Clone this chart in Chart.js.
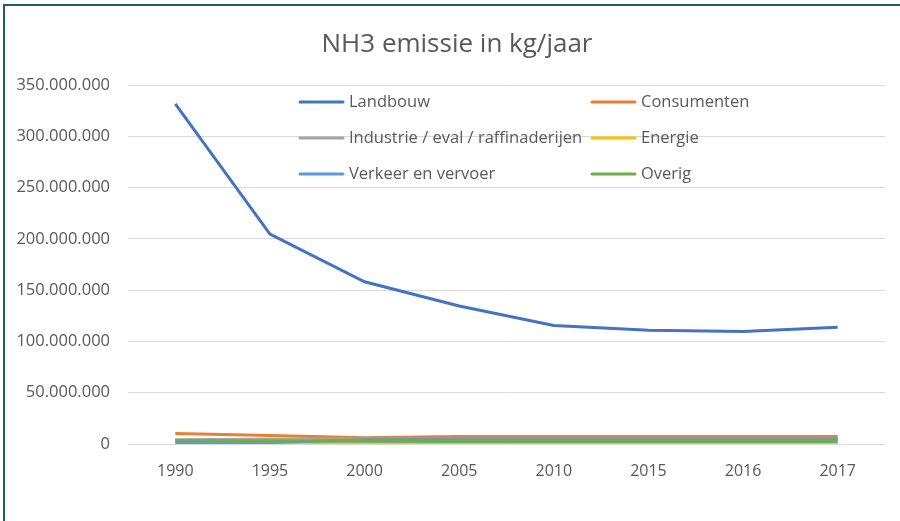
<!DOCTYPE html>
<html>
<head>
<meta charset="utf-8">
<script src="https://cdn.jsdelivr.net/npm/chart.js@4/dist/chart.umd.min.js"></script>
<style>
    html, body { margin: 0; padding: 0; background: #ffffff; }
    #kader { position: absolute; left: 0; top: 0; width: 900px; height: 521px; }
    #kader::before { content: ""; position: absolute; left: 3px; top: 4px; right: 0; height: 2px; background: #1b5f7c; }
    #kader::after { content: ""; position: absolute; left: 3px; top: 4px; bottom: 0; width: 2px; background: #1b5f7c; }
</style>
</head>
<body>
<div id="kader">
    <canvas id="grafiekNH3" width="900" height="521"></canvas>
</div>
<script>
// NH3 emissie per sector (kg/jaar)
const titel = "NH3 emissie in kg/jaar";
const jaren = ["1990", "1995", "2000", "2005", "2010", "2015", "2016", "2017"];

const landbouw    = [331500000, 204600000, 158200000, 134500000, 115500000, 110800000, 109600000, 113800000];
const consumenten = [10200000, 8200000, 6000000, 7300000, 7300000, 7300000, 7300000, 7300000];
const industrie   = [4200000, 4600000, 4800000, 4800000, 4800000, 4800000, 4800000, 4800000];
const energie     = [500000, 400000, 300000, 300000, 300000, 300000, 300000, 300000];
const verkeer     = [800000, 1500000, 4200000, 4600000, 4600000, 4600000, 4600000, 4600000];
const overig      = [3400000, 3000000, 2600000, 2500000, 2500000, 2500000, 2500000, 2500000];

const yTicks = [0, 50000000, 100000000, 150000000, 200000000, 250000000, 300000000, 350000000];

const reeksen = [
    { naam: "Landbouw", data: landbouw, kleur: "#4472C4" },
    { naam: "Consumenten", data: consumenten, kleur: "#ED7D31" },
    { naam: "Industrie / eval / raffinaderijen", data: industrie, kleur: "#A5A5A5" },
    { naam: "Energie", data: energie, kleur: "#FFC000" },
    { naam: "Verkeer en vervoer", data: verkeer, kleur: "#5B9BD5" },
    { naam: "Overig", data: overig, kleur: "#70AD47" }
];

function formatPunt(v) {
    return String(Math.round(v)).replace(/\B(?=(\d{3})+(?!\d))/g, ".");
}

// titel + legenda binnen het plotgebied, in twee kolommen zoals Excel
const legendaPlugin = {
    id: "legendaExcel",
    afterDraw(chart) {
        const ctx = chart.ctx;
        const kolomX = [300, 592];
        const rijY = [102, 138, 174];

        ctx.save();
        ctx.fillStyle = "#595959";
        ctx.textBaseline = "middle";

        ctx.font = "26px 'Open Sans'";
        ctx.textAlign = "center";
        ctx.fillText(titel, 457, 45);

        ctx.font = "16.5px 'Open Sans'";
        ctx.textAlign = "left";
        ctx.lineWidth = 3;
        ctx.lineCap = "round";

        chart.data.datasets.forEach((ds, i) => {
            const x = kolomX[i % 2];
            const y = rijY[Math.floor(i / 2)];
            ctx.strokeStyle = ds.borderColor;
            ctx.beginPath();
            ctx.moveTo(x, y);
            ctx.lineTo(x + 43, y);
            ctx.stroke();
            ctx.fillText(ds.label, x + 49, y);
        });

        ctx.restore();
    }
};

new Chart(document.getElementById("grafiekNH3"), {
    type: "line",
    data: {
        labels: jaren,
        datasets: reeksen.map((r, i) => ({
            label: r.naam,
            data: r.data,
            borderColor: r.kleur,
            backgroundColor: r.kleur,
            borderWidth: 3,
            pointRadius: 0,
            tension: 0,
            order: reeksen.length - i
        }))
    },
    options: {
        responsive: false,
        animation: false,
        layout: { padding: { left: 0, right: 15, top: 85, bottom: 0 } },
        plugins: {
            legend: { display: false },
            tooltip: { enabled: false },
            title: { display: false }
        },
        scales: {
            x: {
                offset: true,
                grid: { display: false },
                border: { display: false },
                ticks: {
                    color: "#595959",
                    font: { family: "'Open Sans'", size: 16 },
                    padding: 10,
                    maxRotation: 0
                },
                afterFit(scale) { scale.height = 77; }
            },
            y: {
                min: 0,
                max: 350000000,
                afterBuildTicks(scale) {
                    scale.ticks = yTicks.map(v => ({ value: v }));
                },
                grid: { color: "#d9d9d9", lineWidth: 1, drawTicks: false },
                border: { display: false },
                ticks: {
                    color: "#595959",
                    font: { family: "'Open Sans'", size: 16.5 },
                    padding: 18,
                    callback: v => formatPunt(v)
                },
                afterFit(scale) { scale.width = 128; }
            }
        }
    },
    plugins: [legendaPlugin]
});
</script>
</body>
</html>
